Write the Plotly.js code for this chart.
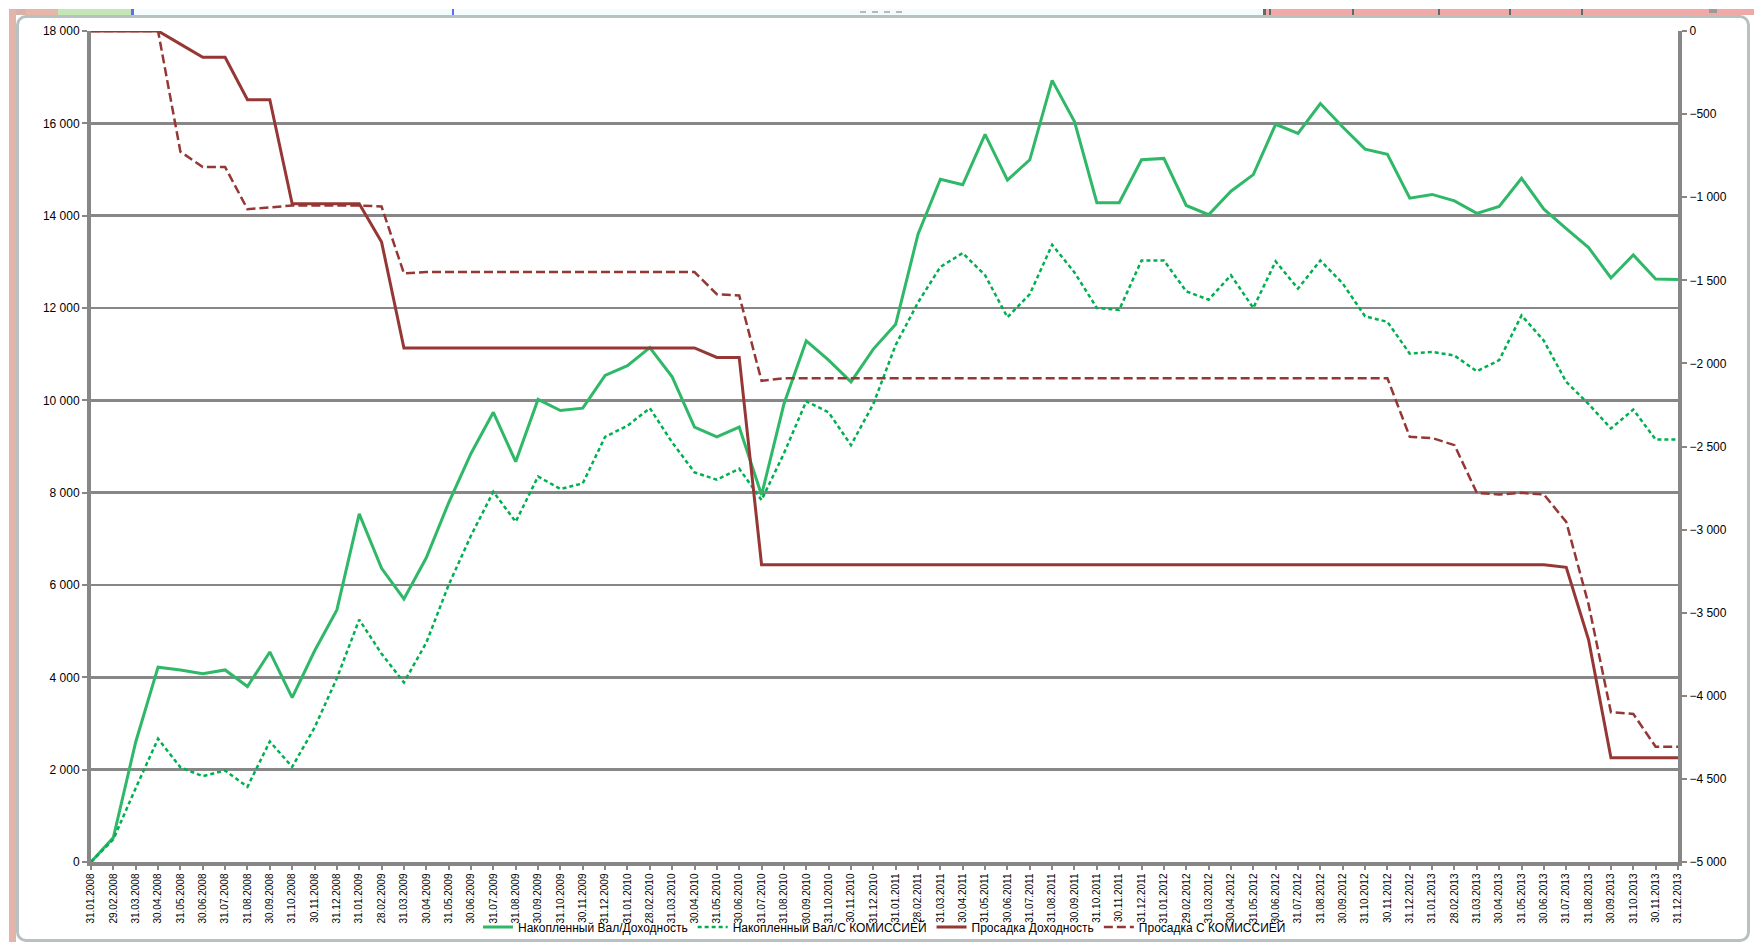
<!DOCTYPE html>
<html>
<head>
<meta charset="utf-8">
<script src="https://cdn.plot.ly/plotly-3.0.1.min.js"></script>
<style>
html,body{margin:0;padding:0;background:#ffffff;overflow:hidden;}
#wrap{position:relative;width:1754px;height:942px;background:#ffffff;}
.d{position:absolute;}
#chart{position:absolute;left:0;top:0;width:1754px;height:942px;}
</style>
</head>
<body>
<div id="wrap">
  <!-- top band (window chrome) -->
  <div class="d" style="left:9px;top:9px;width:17px;height:6px;background:#d8b2aa;"></div>
  <div class="d" style="left:26px;top:9px;width:32px;height:6px;background:#e6b6a9;"></div>
  <div class="d" style="left:58px;top:9px;width:73px;height:6px;background:#c4e6b6;"></div>
  <div class="d" style="left:131px;top:9px;width:3px;height:6px;background:#5b6cf5;"></div>
  <div class="d" style="left:134px;top:9px;width:1129px;height:6px;background:#f3fcfd;"></div>
  <div class="d" style="left:452px;top:9px;width:2px;height:6px;background:#5b6cf5;"></div>
  <div class="d" style="left:860px;top:11px;width:6px;height:2px;background:#b8b8b8;"></div>
  <div class="d" style="left:872px;top:11px;width:6px;height:2px;background:#b8b8b8;"></div>
  <div class="d" style="left:884px;top:11px;width:6px;height:2px;background:#b8b8b8;"></div>
  <div class="d" style="left:896px;top:11px;width:6px;height:2px;background:#b8b8b8;"></div>
  <div class="d" style="left:1263px;top:9px;width:491px;height:6px;background:#f0a9a7;"></div>
  <div class="d" style="left:1263px;top:9px;width:3px;height:6px;background:#5e6a6a;"></div>
  <div class="d" style="left:1269px;top:9px;width:2px;height:6px;background:#5e6a6a;"></div>
  <div class="d" style="left:1352px;top:9px;width:2px;height:6px;background:#5e6a6a;"></div>
  <div class="d" style="left:1438px;top:9px;width:2px;height:6px;background:#5e6a6a;"></div>
  <div class="d" style="left:1509px;top:9px;width:2px;height:6px;background:#5e6a6a;"></div>
  <div class="d" style="left:1581px;top:9px;width:2px;height:6px;background:#5e6a6a;"></div>
  <div class="d" style="left:1709px;top:9px;width:8px;height:4px;background:#9a9a9a;"></div>
  <!-- left strip -->
  <div class="d" style="left:9px;top:9px;width:7px;height:933px;background:#e3b4aa;"></div>
  <!-- chart frame -->
  <div class="d" style="left:16px;top:15px;width:1728px;height:921px;border:3px solid #b9c0c1;border-radius:10px;background:#ffffff;"></div>
  <div id="chart"></div>
</div>
<script>
// ---------- data ----------
const dates = [
 '31.01.2008','29.02.2008','31.03.2008','30.04.2008','31.05.2008','30.06.2008','31.07.2008','31.08.2008','30.09.2008','31.10.2008','30.11.2008','31.12.2008',
 '31.01.2009','28.02.2009','31.03.2009','30.04.2009','31.05.2009','30.06.2009','31.07.2009','31.08.2009','30.09.2009','31.10.2009','30.11.2009','31.12.2009',
 '31.01.2010','28.02.2010','31.03.2010','30.04.2010','31.05.2010','30.06.2010','31.07.2010','31.08.2010','30.09.2010','31.10.2010','30.11.2010','31.12.2010',
 '31.01.2011','28.02.2011','31.03.2011','30.04.2011','31.05.2011','30.06.2011','31.07.2011','31.08.2011','30.09.2011','31.10.2011','30.11.2011','31.12.2011',
 '31.01.2012','29.02.2012','31.03.2012','30.04.2012','31.05.2012','30.06.2012','31.07.2012','31.08.2012','30.09.2012','31.10.2012','30.11.2012','31.12.2012',
 '31.01.2013','28.02.2013','31.03.2013','30.04.2013','31.05.2013','30.06.2013','31.07.2013','31.08.2013','30.09.2013','31.10.2013','30.11.2013','31.12.2013'
];

const seriesNames = [
 'Накопленный Вал/Доходность',
 'Накопленный Вал/С КОМИССИЕЙ',
 'Просадка Доходность',
 'Просадка С КОМИССИЕЙ'
];

const equityGross = [
 0, 530, 2600, 4220, 4160, 4080, 4160, 3800, 4550, 3560, 4570, 5460,
 7540, 6360, 5700, 6590, 7780, 8850, 9740, 8670, 10020, 9780, 9830, 10540,
 10750, 11140, 10510, 9420, 9210, 9420, 7950, 9920, 11290, 10870, 10400, 11110,
 11650, 13600, 14790, 14670, 15760, 14770, 15210, 16930, 16040, 14280, 14280, 15210,
 15240, 14220, 14020, 14530, 14890, 15980, 15780, 16430, 15920, 15440, 15330, 14380,
 14460, 14320, 14050, 14200, 14810, 14140, 13720, 13310, 12650, 13150, 12630, 12620
];

const equityNet = [
 0, 490, 1600, 2670, 2050, 1860, 1980, 1630, 2610, 2060, 2910, 3980,
 5250, 4510, 3890, 4750, 6000, 7070, 8020, 7370, 8350, 8080, 8200, 9210,
 9450, 9830, 9090, 8440, 8280, 8520, 7840, 8850, 9980, 9740, 9030, 9920,
 11200, 12120, 12890, 13190, 12710, 11800, 12300, 13370, 12770, 12000, 11960, 13030,
 13030, 12360, 12180, 12710, 12000, 13010, 12420, 13030, 12530, 11820, 11700, 11010,
 11050, 10970, 10630, 10870, 11840, 11290, 10400, 9920, 9390, 9800, 9150, 9150
];

const drawdownGross = [
 0, 0, 0, 0, -79, -158, -158, -413, -413, -1040, -1040, -1040,
 -1040, -1270, -1907, -1907, -1907, -1907, -1907, -1907, -1907, -1907, -1907, -1907,
 -1907, -1907, -1907, -1907, -1964, -1964, -3211, -3211, -3211, -3211, -3211, -3211,
 -3211, -3211, -3211, -3211, -3211, -3211, -3211, -3211, -3211, -3211, -3211, -3211,
 -3211, -3211, -3211, -3211, -3211, -3211, -3211, -3211, -3211, -3211, -3211, -3211,
 -3211, -3211, -3211, -3211, -3211, -3211, -3227, -3663, -4373, -4373, -4373, -4373
];

const drawdownNet = [
 0, 0, 0, 0, -726, -818, -818, -1072, -1062, -1050, -1050, -1050,
 -1050, -1056, -1459, -1450, -1450, -1450, -1450, -1450, -1450, -1450, -1450, -1450,
 -1450, -1450, -1450, -1450, -1584, -1591, -2105, -2089, -2089, -2089, -2089, -2089,
 -2089, -2089, -2089, -2089, -2089, -2089, -2089, -2089, -2089, -2089, -2089, -2089,
 -2089, -2089, -2089, -2089, -2089, -2089, -2089, -2089, -2089, -2089, -2089, -2442,
 -2449, -2492, -2779, -2789, -2779, -2789, -2954, -3450, -4099, -4109, -4307, -4307
];

// ---------- chart ----------
const GREEN = '#2fb868';
const GREEN_DOT = '#00b050';
const RED = '#953735';
const GRID = '#878787';

const traces = [
 {x: dates, y: equityGross, name: seriesNames[0], type: 'scatter', mode: 'lines',
  line: {color: GREEN, width: 3}, yaxis: 'y'},
 {x: dates, y: equityNet, name: seriesNames[1], type: 'scatter', mode: 'lines',
  line: {color: GREEN_DOT, width: 2.5, dash: '4px,3px'}, yaxis: 'y'},
 {x: dates, y: drawdownGross, name: seriesNames[2], type: 'scatter', mode: 'lines',
  line: {color: RED, width: 3}, yaxis: 'y2'},
 {x: dates, y: drawdownNet, name: seriesNames[3], type: 'scatter', mode: 'lines',
  line: {color: RED, width: 2.5, dash: '9px,4px'}, yaxis: 'y2'}
];

const layout = {
  width: 1754, height: 942,
  paper_bgcolor: 'rgba(0,0,0,0)', plot_bgcolor: 'rgba(0,0,0,0)',
  margin: {l: 91, r: 76, t: 31, b: 80, pad: 0},
  separators: ', ',
  font: {family: '"Liberation Sans", Arial, sans-serif', color: '#000000', size: 12},
  showlegend: true,
  hovermode: false,
  legend: {orientation: 'h', x: 0.5, xanchor: 'center', xref: 'paper',
           y: 0.016, yanchor: 'middle', yref: 'container',
           font: {size: 12, color: '#000000'}, bgcolor: 'rgba(0,0,0,0)', traceorder: 'normal'},
  xaxis: {type: 'category', range: [0, 71], showgrid: false, zeroline: false, automargin: false,
          showline: true, linecolor: GRID, linewidth: 3.5,
          ticks: 'outside', ticklen: 4, tickwidth: 2, tickcolor: GRID,
          tickmode: 'array', tickvals: dates, ticktext: dates,
          tickangle: -90, tickfont: {size: 10, color: '#000000'}, fixedrange: true},
  yaxis: {range: [0, 18000], tick0: 0, dtick: 2000, showgrid: true, gridcolor: GRID, gridwidth: 2.5,
          zeroline: false, showline: true, linecolor: GRID, linewidth: 4, automargin: false,
          ticks: 'outside', ticklen: 5, tickwidth: 2, tickcolor: GRID, tickformat: ',d',
          separatethousands: true, tickfont: {size: 12, color: '#000000'}, fixedrange: true},
  yaxis2: {overlaying: 'y', side: 'right', range: [-5000, 0], tick0: 0, dtick: 500,
           showgrid: false, zeroline: false, showline: true, linecolor: GRID, linewidth: 4, automargin: false,
           ticks: 'outside', ticklen: 5, tickwidth: 2, tickcolor: GRID, tickformat: ',d',
           separatethousands: true, tickfont: {size: 12, color: '#000000'}, fixedrange: true}
};

Plotly.newPlot('chart', traces, layout, {displayModeBar: false, staticPlot: true});
</script>
</body>
</html>
